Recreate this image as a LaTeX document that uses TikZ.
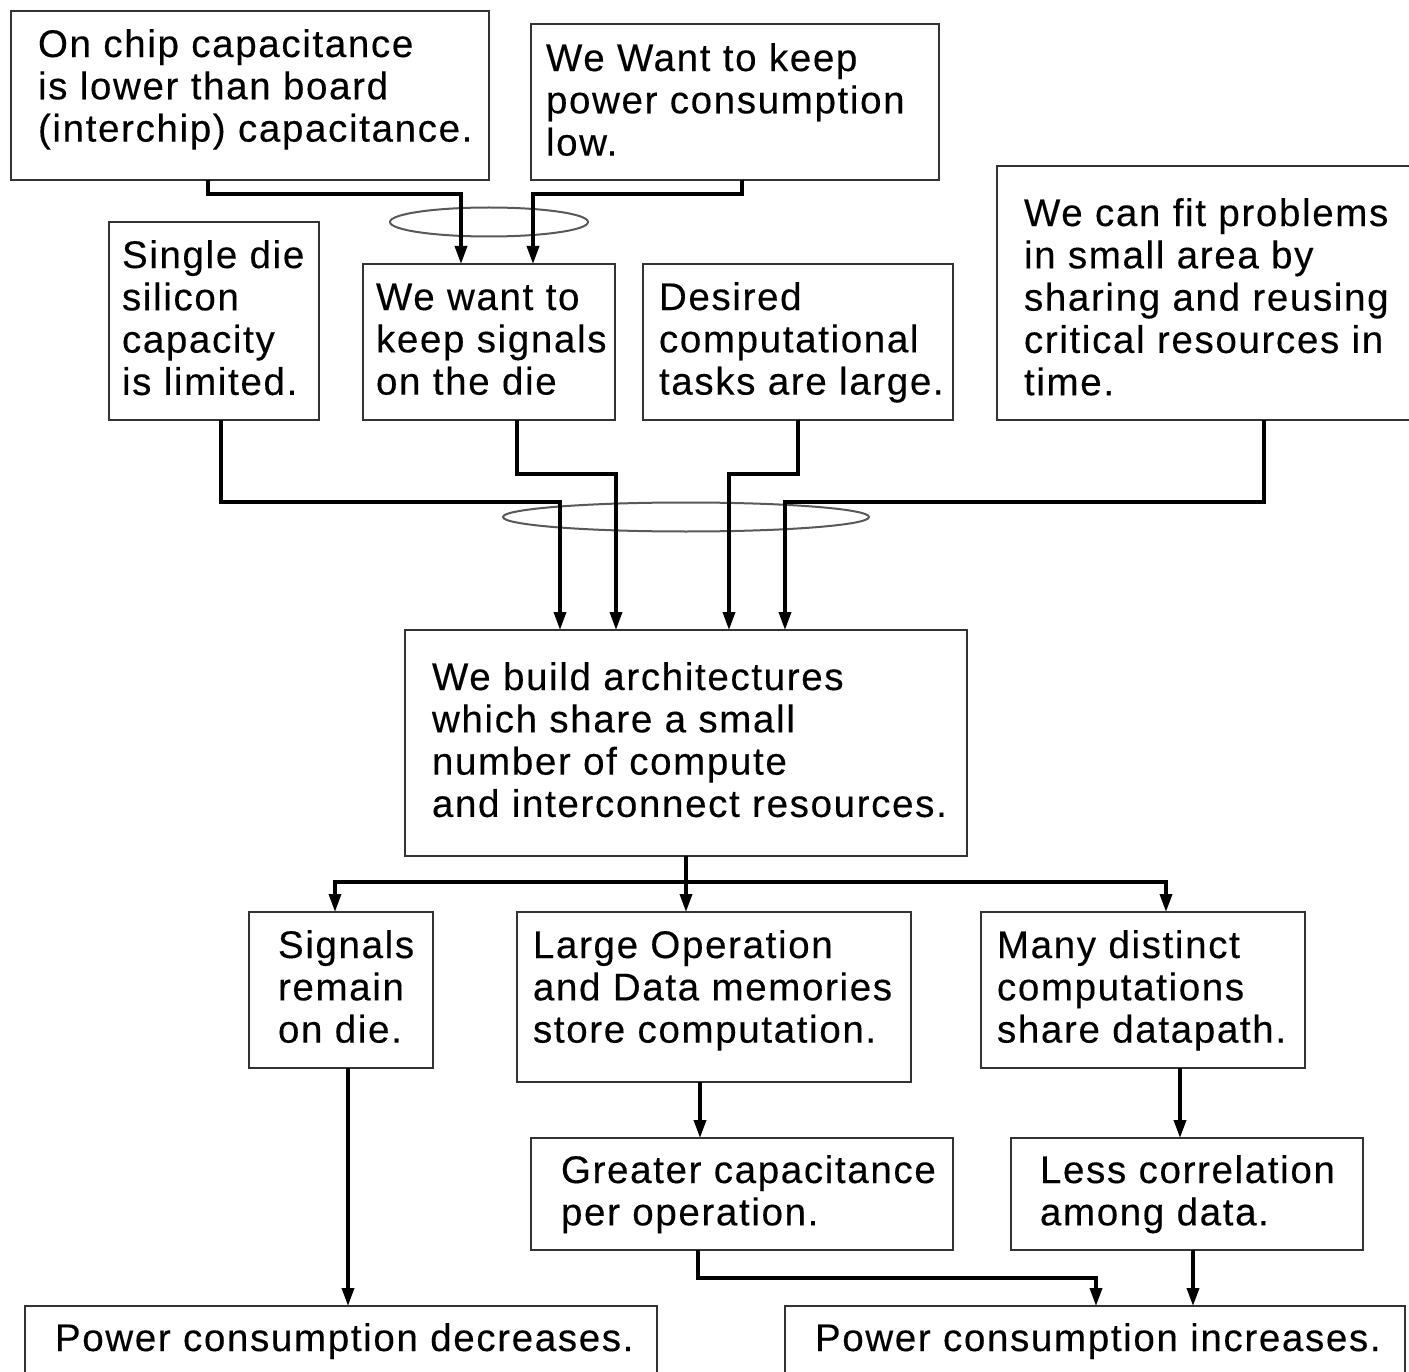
\documentclass[tikz,border=0pt]{standalone}
\usepackage{fontspec}
\setmainfont{Liberation Sans}[LetterSpace=4.3,FakeBold=0.3]
\usetikzlibrary{arrows.meta,shapes.geometric}
\definecolor{boxgray}{gray}{0.2}
\definecolor{ringgray}{gray}{0.35}

\begin{document}
\begin{tikzpicture}[x=1pt,y=-1pt,
  box/.style={draw=boxgray, line width=2pt, anchor=north west, inner sep=0pt, outer sep=0pt},
  txt/.style={anchor=north west, inner sep=0pt, outer sep=0pt, align=left,
              font=\fontsize{38.5}{42.3}\selectfont},
  conn/.style={line width=3.5pt, -{Triangle[width=12pt,length=18pt]}},
  ring/.style={ellipse, draw=ringgray, line width=2pt, inner sep=0pt}
]
\fill[white] (0,0) rectangle (1409,1372);
\useasboundingbox (0,0) rectangle (1409,1372);
\clip (0,0) rectangle (1409,1372);

% frames
\node[box, minimum width=478pt, minimum height=169pt] (A) at (11,11) {};
\node[box, minimum width=408pt, minimum height=156pt] (B) at (531,24) {};
\node[box, minimum width=420pt, minimum height=254pt] (C) at (997,166) {};
\node[box, minimum width=210pt, minimum height=198pt] (D) at (109,222) {};
\node[box, minimum width=252pt, minimum height=156pt] (E) at (363,264) {};
\node[box, minimum width=310pt, minimum height=156pt] (F) at (643,264) {};
\node[box, minimum width=562pt, minimum height=226pt] (G) at (405,630) {};
\node[box, minimum width=184pt, minimum height=156pt] (H) at (249,912) {};
\node[box, minimum width=394pt, minimum height=170pt] (I) at (517,912) {};
\node[box, minimum width=324pt, minimum height=156pt] (J) at (981,912) {};
\node[box, minimum width=422pt, minimum height=112pt] (K) at (531,1138) {};
\node[box, minimum width=352pt, minimum height=112pt] (L) at (1011,1138) {};
\node[box, minimum width=632pt, minimum height=80pt] (M) at (25,1306) {};
\node[box, minimum width=620pt, minimum height=80pt] (N) at (785,1306) {};

% texts
\node[txt] (tA) at (38,27.4) {\strut On chip capacitance\\is lower than board\\(interchip) capacitance.};
\node[txt] (tB) at (546,41.4) {\strut We Want to keep\\power consumption\\low.};
\node[txt] (tC) at (1024,196.4) {\strut We can fit problems\\in small area by\\sharing and reusing\\critical resources in\\time.};
\node[txt] (tD) at (122,238.4) {\strut Single die\\silicon\\capacity\\is limited.};
\node[txt] (tE) at (376,280.4) {\strut We want to\\keep signals\\on the die};
\node[txt] (tF) at (659,280.4) {\strut Desired\\computational\\tasks are large.};
\node[txt] (tG) at (432,660.4) {\strut We build architectures\\which share a small\\number of compute\\and interconnect resources.};
\node[txt] (tH) at (278,928.4) {\strut Signals\\remain\\on die.};
\node[txt] (tI) at (533,928.4) {\strut Large Operation\\and Data memories\\store computation.};
\node[txt] (tJ) at (997,928.4) {\strut Many distinct\\computations\\share datapath.};
\node[txt] (tK) at (561,1153.4) {\strut Greater capacitance\\per operation.};
\node[txt] (tL) at (1040,1153.4) {\strut Less correlation\\among data.};
\node[txt] (tM) at (55,1321.4) {\strut Power consumption decreases.};
\node[txt] (tN) at (815,1321.4) {\strut Power consumption increases.};

% grouping rings
\node[ring, minimum width=198pt, minimum height=29pt] (r1) at (489,222) {};
\node[ring, minimum width=366pt, minimum height=29pt] (r2) at (686,517) {};

% connectors
\draw[conn] (A.south -| 208,0) -- (208,194) -| (E.north -| 461,0);
\draw[conn] (B.south -| 742,0) -- (742,194) -| (E.north -| 533,0);
\draw[conn] (D.south -| 221,0) -- (221,502) -| (G.north -| 560,0);
\draw[conn] (E.south -| 517,0) -- (517,474) -| (G.north -| 616,0);
\draw[conn] (F.south -| 798,0) -- (798,474) -| (G.north -| 729,0);
\draw[conn] (C.south -| 1264,0) -- (1264,502) -| (G.north -| 785,0);
\draw[conn] (G.south -| 686,0) -- (686,882) -| (H.north -| 335,0);
\draw[conn] (G.south -| 686,0) -- (I.north -| 686,0);
\draw[conn] (G.south -| 686,0) -- (686,882) -| (J.north -| 1166,0);
\draw[conn] (H.south -| 348,0) -- (M.north -| 348,0);
\draw[conn] (I.south -| 700,0) -- (K.north -| 700,0);
\draw[conn] (J.south -| 1180,0) -- (L.north -| 1180,0);
\draw[conn] (K.south -| 698,0) -- (698,1278) -| (N.north -| 1096,0);
\draw[conn] (L.south -| 1193,0) -- (N.north -| 1193,0);
\end{tikzpicture}
\end{document}
